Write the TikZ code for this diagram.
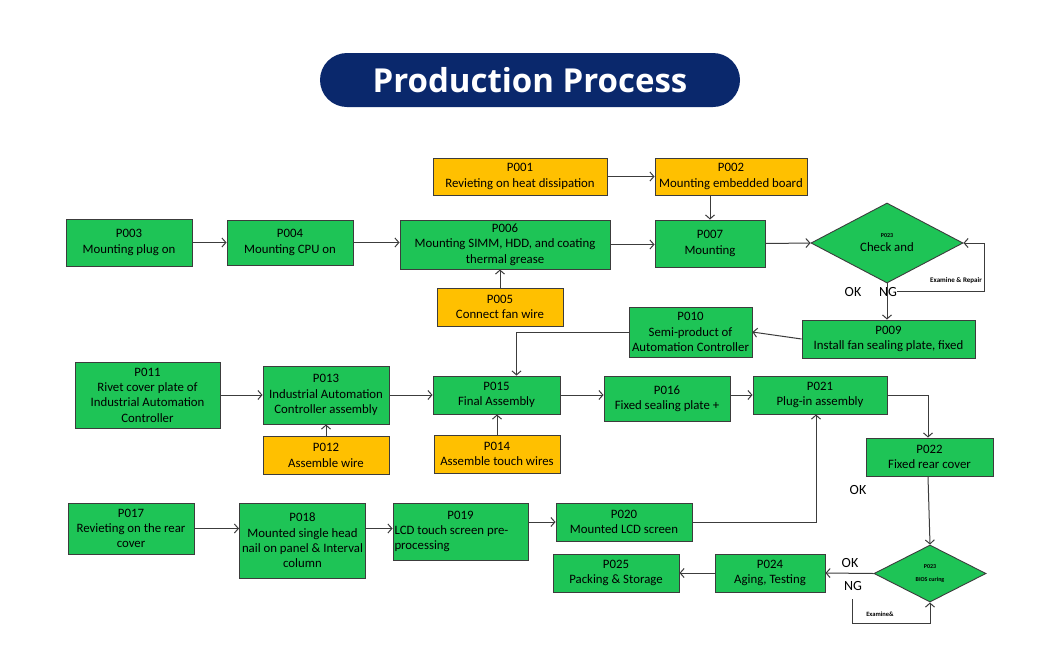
\documentclass[tikz,border=0pt]{standalone}
\usepackage{fontspec}
\setmainfont{Carlito}
\newfontfamily\titlefont{Open Sans}
\usetikzlibrary{arrows.meta,shapes.geometric,calc}
\definecolor{pgreen}{RGB}{30,196,86}
\definecolor{porange}{RGB}{255,192,0}
\definecolor{pnavy}{RGB}{10,40,108}
\definecolor{pline}{RGB}{60,60,60}
\tikzset{
  box/.style={draw=pline, line width=0.9pt, fill=pgreen, align=center, inner sep=1pt,
    font=\fontsize{12.8}{15.3}\selectfont, text=black},
  obox/.style={box, fill=porange},
  dia/.style={draw=pline, line width=0.9pt, fill=pgreen, shape=diamond, inner sep=0pt, align=center},
  flow/.style={draw=pline, line width=1pt, -{Straight Barb[length=4pt,width=9pt]}},
  oknq/.style={font=\fontsize{14}{16}\selectfont, text=black},
}
\begin{document}
\begin{tikzpicture}[x=1pt,y=-1pt]
\useasboundingbox[fill=white] (0,0) rectangle (1060,646);
% title
\node[fill=pnavy, rounded corners=27pt, minimum width=420pt, minimum height=54pt, text=white,
  font=\titlefont\bfseries\fontsize{33}{36}\selectfont] (title) at (530,80) {Production Process};
% boxes
\node[obox, minimum width=174pt, minimum height=37pt] (P001) at (520,176.5) {P001\\Revieting on heat dissipation};
\node[obox, minimum width=152pt, minimum height=37pt] (P002) at (731,176.5) {P002\\Mounting embedded board};
\node[box, minimum width=126pt, minimum height=47pt] (P003) at (129,242.5) {P003\\Mounting plug on};
\node[box, minimum width=126pt, minimum height=45pt] (P004) at (290,242.5) {P004\\Mounting CPU on};
\node[box, minimum width=210pt, minimum height=49pt] (P006) at (505,244.5) {P006\\Mounting SIMM, HDD, and coating\\thermal grease};
\node[box, minimum width=110pt, minimum height=47pt] (P007) at (710,243.5) {P007\\Mounting};
\node[obox, minimum width=126pt, minimum height=38pt] (P005) at (500,307) {P005\\Connect fan wire};
\node[dia, minimum width=152pt, minimum height=80pt] (D1) at (887,243) {{\fontsize{6}{7}\selectfont\bfseries P023}\\[2pt]{\fontsize{12.8}{14}\selectfont Check and}};
\node[box, minimum width=173pt, minimum height=38pt] (P009) at (888.5,339) {P009\\Install fan sealing plate, fixed};
\node[box, minimum width=123pt, minimum height=50pt] (P010) at (690.5,332) {P010\\Semi-product of\\Automation Controller};
\node[box, minimum width=145pt, minimum height=66pt] (P011) at (147.5,395) {P011\\Rivet cover plate of\\Industrial Automation\\Controller};
\node[box, minimum width=126pt, minimum height=58pt] (P013) at (326,395) {P013\\Industrial Automation\\Controller assembly};
\node[obox, minimum width=126pt, minimum height=38pt] (P012) at (326,455.5) {P012\\Assemble wire};
\node[box, minimum width=127pt, minimum height=38pt] (P015) at (496.5,395) {P015\\Final Assembly};
\node[obox, minimum width=126pt, minimum height=38pt] (P014) at (497,454) {P014\\Assemble touch wires};
\node[box, minimum width=126pt, minimum height=45pt] (P016) at (667,398.5) {P016\\Fixed sealing plate +};
\node[box, minimum width=134pt, minimum height=38pt] (P021) at (820,395) {P021\\Plug-in assembly};
\node[box, minimum width=127pt, minimum height=38pt] (P022) at (929.5,457) {P022\\Fixed rear cover};
\node[dia, minimum width=112pt, minimum height=57pt] (D2) at (930,573.5) {\fontsize{6}{7}\selectfont\bfseries P023\\[1pt]\fontsize{6}{7}\selectfont\bfseries BIOS curing};
\node[box, minimum width=110pt, minimum height=38pt] (P024) at (770,573) {P024\\Aging, Testing};
\node[box, minimum width=126pt, minimum height=38pt] (P025) at (616,573) {P025\\Packing \& Storage};
\node[box, minimum width=126pt, minimum height=51pt] (P017) at (131,528.5) {P017\\Revieting on the rear\\cover};
\node[box, minimum width=126pt, minimum height=75pt] (P018) at (302.5,540.5) {P018\\Mounted single head\\nail on panel \& Interval\\column};
\node[box, minimum width=135pt, minimum height=57pt] (P019) at (460.5,531.5) {\parbox{132pt}{\centering P019\par\raggedright LCD touch screen pre-\\processing\par}};
\node[box, minimum width=136pt, minimum height=38pt] (P020) at (624,522) {P020\\Mounted LCD screen};
% labels
\node[oknq] (ok1) at (853,292) {OK};
\node[oknq] (ng1) at (888,292) {NG};
\node[font=\fontsize{7}{8}\selectfont\bfseries] (er1) at (956,281) {Examine \& Repair};
\node[oknq] (ok2) at (858,490) {OK};
\node[oknq] (ok3) at (850,563) {OK};
\node[oknq] (ng3) at (853,586) {NG};
\node[font=\fontsize{6.5}{8}\selectfont\bfseries] (er2) at (880,614) {Examine\&};
\coordinate (l1) at (897,291);
\coordinate (l2) at (852,599);
% connectors
\draw[flow] (P001.east) -- (P002.west);
\draw[flow] (P002.south -| P007.north) -- (P007.north);
\draw[flow] (P003.east) -- (P004.west);
\draw[flow] (P004.east) -- (P006.west |- P004.east);
\draw[flow] (P006.east) -- (P007.west |- P006.east);
\draw[flow] (P005.north) -- (P005.north |- P006.south);
\draw[flow] (P007.east) -- (D1.west);
\draw[flow] (D1.south) -- (D1.south |- P009.north);
\draw[flow] (l1) -- ++(87,0) |- (D1.east);
\draw[flow] (P009.west) -- (P010.east);
\draw[flow] (P010.west) -| ($(P015.north)+(20,0)$);
\draw[flow] (P011.east) -- (P013.west);
\draw[flow] (P013.east) -- (P015.west);
\draw[flow] (P012.north) -- (P013.south);
\draw[flow] (P014.north) -- (P014.north |- P015.south);
\draw[flow] (P015.east) -- (P016.west |- P015.east);
\draw[flow] (P016.east |- P021.east) -- (P021.west);
\draw[flow] (P021.east) -| ($(P022.north)+(-1.5,0)$);
\draw[flow] ($(P022.south)+(-1.5,0)$) -- (D2.north);
\draw[flow] (D2.west) -- (P024.east);
\draw[flow] (l2) -- ++(0,24) -| (D2.south);
\draw[flow] (P024.west) -- (P025.east);
\draw[flow] (P020.east) -| ($(P021.south)+(-4,0)$);
\draw[flow] (P017.east) -- (P018.west |- P017.east);
\draw[flow] (P018.east |- P017.east) -- (P019.west |- P017.east);
\draw[flow] (P019.east |- P020.west) -- (P020.west);
\end{tikzpicture}
\end{document}
